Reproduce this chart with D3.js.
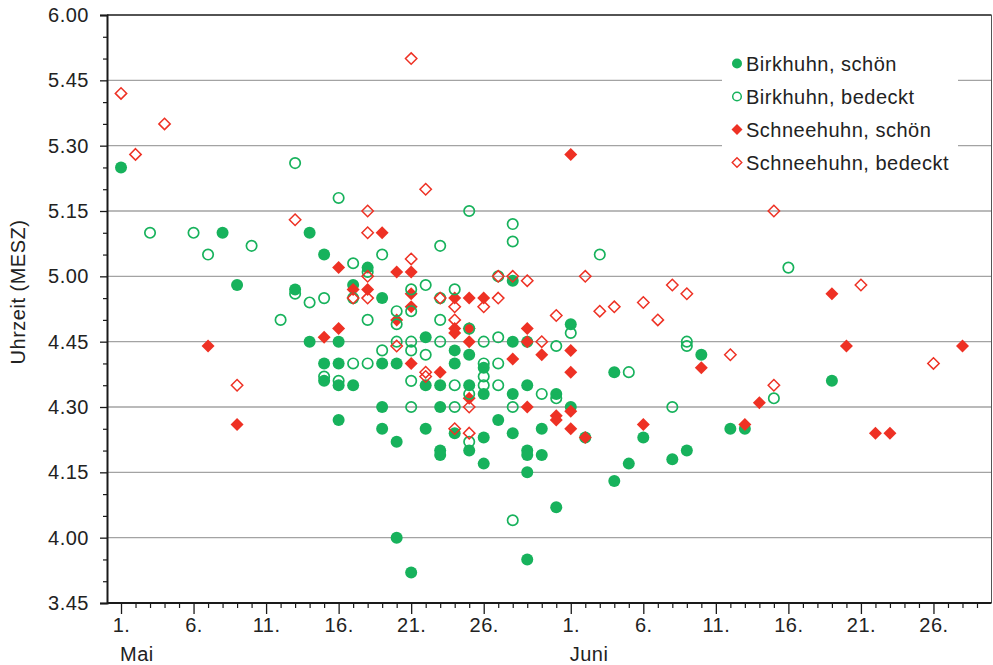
<!DOCTYPE html>
<html>
<head>
<meta charset="utf-8">
<script src="https://cdn.jsdelivr.net/npm/d3@7"></script>
<style>
  body { margin: 0; background: #fff; }
  svg { display: block; font-family: Arial, "Liberation Sans", sans-serif; }
  svg text { letter-spacing: 0.5px; }
</style>
</head>
<body>
<div id="chart"></div>
<script>
// day = day number counted from 1. Mai (1. Juni = 32), time = Uhrzeit as h.mm
const birkSchoenDays   = [1, 8, 9, 13, 14, 14, 15, 15, 15, 16, 16, 16, 16, 17, 17, 18, 19, 19, 19, 19, 20, 20, 20, 21, 22, 22, 22, 23, 23, 23, 23, 24, 24, 24, 25, 25, 25, 26, 26, 26, 26, 27, 28, 28, 28, 28, 29, 29, 29, 29, 29, 29, 30, 30, 31, 31, 32, 32, 33, 35, 35, 36, 37, 39, 40, 41, 43, 44, 50];
const birkSchoenTimes  = [5.25, 5.10, 4.58, 4.57, 5.10, 4.45, 5.05, 4.40, 4.36, 4.45, 4.40, 4.35, 4.27, 4.58, 4.35, 5.02, 4.55, 4.40, 4.30, 4.25, 4.40, 4.22, 4.00, 3.52, 4.46, 4.35, 4.25, 4.35, 4.30, 4.20, 4.19, 4.43, 4.40, 4.24, 4.42, 4.35, 4.20, 4.39, 4.33, 4.23, 4.17, 4.27, 4.59, 4.45, 4.33, 4.24, 4.45, 4.35, 4.20, 4.19, 4.15, 3.55, 4.25, 4.19, 4.33, 4.07, 4.49, 4.30, 4.23, 4.38, 4.13, 4.17, 4.23, 4.18, 4.20, 4.42, 4.25, 4.25, 4.36];

const birkBedecktDays  = [3, 6, 7, 10, 12, 13, 13, 14, 15, 15, 16, 16, 17, 17, 17, 18, 18, 18, 19, 19, 20, 20, 20, 21, 21, 21, 21, 21, 21, 22, 22, 23, 23, 23, 23, 24, 24, 24, 25, 25, 25, 25, 26, 26, 26, 26, 27, 27, 27, 27, 28, 28, 28, 28, 30, 31, 31, 32, 34, 36, 39, 40, 40, 46, 47];
const birkBedecktTimes = [5.10, 5.10, 5.05, 5.07, 4.50, 5.26, 4.56, 4.54, 4.55, 4.37, 5.18, 4.36, 5.03, 4.55, 4.40, 5.01, 4.50, 4.40, 5.05, 4.43, 4.52, 4.49, 4.45, 4.57, 4.52, 4.45, 4.43, 4.36, 4.30, 4.58, 4.42, 5.07, 4.55, 4.50, 4.45, 4.57, 4.35, 4.30, 5.15, 4.48, 4.33, 4.22, 4.45, 4.40, 4.37, 4.35, 5.00, 4.46, 4.40, 4.35, 5.12, 5.08, 4.30, 4.04, 4.33, 4.44, 4.32, 4.47, 5.05, 4.38, 4.30, 4.45, 4.44, 4.32, 5.02];

const schneeSchoenDays   = [7, 9, 15, 16, 16, 17, 18, 19, 20, 20, 21, 21, 21, 21, 23, 24, 24, 24, 25, 25, 25, 25, 26, 28, 29, 29, 29, 30, 31, 31, 32, 32, 32, 32, 32, 33, 37, 41, 44, 45, 50, 51, 53, 54, 59];
const schneeSchoenTimes  = [4.44, 4.26, 4.46, 5.02, 4.48, 4.57, 4.57, 5.10, 5.01, 4.50, 5.01, 4.56, 4.53, 4.40, 4.38, 4.55, 4.48, 4.47, 4.55, 4.48, 4.45, 4.32, 4.55, 4.41, 4.48, 4.45, 4.30, 4.42, 4.28, 4.27, 5.28, 4.43, 4.38, 4.29, 4.25, 4.23, 4.26, 4.39, 4.26, 4.31, 4.56, 4.44, 4.24, 4.24, 4.44];

const schneeBedecktDays  = [1, 2, 4, 9, 13, 17, 18, 18, 18, 18, 20, 21, 21, 22, 22, 22, 23, 24, 24, 24, 25, 25, 26, 27, 27, 28, 29, 30, 31, 33, 34, 35, 37, 38, 39, 40, 43, 46, 46, 52, 57];
const schneeBedecktTimes = [5.42, 5.28, 5.35, 4.35, 5.13, 4.55, 5.15, 5.10, 5.00, 4.55, 4.44, 5.50, 5.04, 5.20, 4.38, 4.37, 4.55, 4.53, 4.50, 4.25, 4.30, 4.24, 4.53, 5.00, 4.55, 5.00, 4.59, 4.45, 4.51, 5.00, 4.52, 4.53, 4.54, 4.50, 4.58, 4.56, 4.42, 5.15, 4.35, 4.58, 4.40];

const yTickLabels  = ['3.45', '4.00', '4.15', '4.30', '4.45', '5.00', '5.15', '5.30', '5.45', '6.00'];
const xTickDays    = [1, 6, 11, 16, 21, 26, 32, 37, 42, 47, 52, 57];
const xTickLabels  = ['1.', '6.', '11.', '16.', '21.', '26.', '1.', '6.', '11.', '16.', '21.', '26.'];
const monthDays    = [1, 32];
const monthLabels  = ['Mai', 'Juni'];
const seriesNames  = ['Birkhuhn, schön', 'Birkhuhn, bedeckt', 'Schneehuhn, schön', 'Schneehuhn, bedeckt'];

const GREEN = '#17b25c';
const RED   = '#ee3124';

// "4.35" -> minutes since midnight
const toMin = v => Math.floor(v + 1e-6) * 60 + Math.round((v - Math.floor(v + 1e-6)) * 100);

const W = 993, H = 665;
const plot = { left: 107, right: 991.5, top: 15, bottom: 603 };

const x = d3.scaleLinear().domain([0, 61]).range([plot.left - 0.5, plot.right]);
const y = d3.scaleLinear().domain([toMin(3.45), toMin(6.00)]).range([plot.bottom, plot.top]);

const svg = d3.select('#chart').append('svg')
  .attr('width', W).attr('height', H);

// ── Grid ─────────────────────────────────────────────────────────────────
const yTickMins = yTickLabels.map(s => toMin(+s));
svg.append('g')
  .selectAll('line')
  .data(yTickMins.slice(1, -1))
  .join('line')
  .attr('x1', plot.left).attr('x2', plot.right)
  .attr('y1', d => y(d)).attr('y2', d => y(d))
  .attr('stroke', '#a3a3a3').attr('stroke-width', 1.3);

// frame: top + right
svg.append('line')
  .attr('x1', plot.left).attr('x2', plot.right)
  .attr('y1', y(toMin(6.00))).attr('y2', y(toMin(6.00)))
  .attr('stroke', '#1a1a1a').attr('stroke-width', 1.5);
svg.append('line')
  .attr('x1', plot.right).attr('x2', plot.right)
  .attr('y1', plot.top).attr('y2', plot.bottom)
  .attr('stroke', '#555').attr('stroke-width', 1);

// ── Axes ─────────────────────────────────────────────────────────────────
const minorY = d3.range(toMin(3.45), toMin(6.00) + 1, 5).filter(m => m % 15 !== 0);
svg.append('g')
  .attr('transform', `translate(${plot.left},0)`)
  .call(d3.axisLeft(y).tickValues(minorY).tickSize(4).tickFormat(''))
  .call(g => g.select('.domain').remove())
  .call(g => g.selectAll('line').attr('stroke', '#1a1a1a').attr('stroke-width', 1.2));

svg.append('g')
  .attr('transform', `translate(${plot.left},0)`)
  .call(d3.axisLeft(y).tickValues(yTickMins).tickSize(7).tickPadding(11)
    .tickFormat((d, i) => yTickLabels[i]))
  .call(g => g.select('.domain').attr('stroke', '#1a1a1a').attr('stroke-width', 2))
  .call(g => g.selectAll('line').attr('stroke', '#1a1a1a').attr('stroke-width', 1.3))
  .call(g => g.selectAll('text').attr('font-size', 20).attr('fill', '#222')
    .attr('font-family', 'Arial, "Liberation Sans", sans-serif'));

const minorX = d3.range(1, 61).filter(d => !xTickDays.includes(d));
svg.append('g')
  .attr('transform', `translate(0,${plot.bottom})`)
  .call(d3.axisBottom(x).tickValues(minorX).tickSize(5).tickFormat(''))
  .call(g => g.select('.domain').remove())
  .call(g => g.selectAll('line').attr('stroke', '#1a1a1a').attr('stroke-width', 1.2));

svg.append('g')
  .attr('transform', `translate(0,${plot.bottom})`)
  .call(d3.axisBottom(x).tickValues(xTickDays).tickSize(11).tickPadding(4)
    .tickFormat((d, i) => xTickLabels[i]))
  .call(g => g.select('.domain').attr('d', `M${plot.left},0H${plot.right}`)
    .attr('stroke', '#1a1a1a').attr('stroke-width', 2))
  .call(g => g.selectAll('line').attr('stroke', '#1a1a1a').attr('stroke-width', 1.3))
  .call(g => g.selectAll('text').attr('font-size', 20).attr('fill', '#222')
    .attr('font-family', 'Arial, "Liberation Sans", sans-serif'));

svg.append('g')
  .selectAll('text')
  .data(monthDays)
  .join('text')
  .attr('x', d => x(d) - 1)
  .attr('y', 661)
  .attr('font-size', 20).attr('fill', '#222')
  .text((d, i) => monthLabels[i]);

svg.append('text')
  .attr('transform', `translate(25,${(plot.top + plot.bottom) / 2 - 17}) rotate(-90)`)
  .attr('text-anchor', 'middle')
  .attr('font-size', 20).attr('fill', '#222')
  .text('Uhrzeit (MESZ)');

// ── Markers ──────────────────────────────────────────────────────────────
const diamond = r => `M0,${-r}L${r},0L0,${r}L${-r},0Z`;

function drawSeries(days, times, shape, filled, color, r) {
  const g = svg.append('g');
  const pts = days.map((d, i) => ({ day: d, min: toMin(times[i]) }));
  if (shape === 'circle') {
    g.selectAll('circle').data(pts).join('circle')
      .attr('cx', d => x(d.day)).attr('cy', d => y(d.min))
      .attr('r', filled ? r : r - 0.8)
      .attr('fill', filled ? color : 'none')
      .attr('stroke', filled ? 'none' : color)
      .attr('stroke-width', filled ? 0 : 1.7);
  } else {
    g.selectAll('path').data(pts).join('path')
      .attr('transform', d => `translate(${x(d.day)},${y(d.min)})`)
      .attr('d', diamond(filled ? r : r - 0.8))
      .attr('fill', filled ? color : 'none')
      .attr('stroke', filled ? 'none' : color)
      .attr('stroke-width', filled ? 0 : 1.5);
  }
}

drawSeries(birkSchoenDays, birkSchoenTimes, 'circle', true, GREEN, 6);
drawSeries(schneeSchoenDays, schneeSchoenTimes, 'diamond', true, RED, 6.5);
drawSeries(birkBedecktDays, birkBedecktTimes, 'circle', false, GREEN, 6);
drawSeries(schneeBedecktDays, schneeBedecktTimes, 'diamond', false, RED, 6.5);

// ── Legend ───────────────────────────────────────────────────────────────
const legend = svg.append('g');
legend.append('rect')
  .attr('x', 722).attr('y', 42).attr('width', 236).attr('height', 140)
  .attr('fill', '#fff');

const legendY = d3.scalePoint().domain(seriesNames).range([63.5, 162.5]);
seriesNames.forEach((name, i) => {
  const cy = legendY(name);
  const filled = i % 2 === 0;
  const color = i < 2 ? GREEN : RED;
  if (i < 2) {
    legend.append('circle')
      .attr('cx', 737).attr('cy', cy).attr('r', filled ? 5 : 4.3)
      .attr('fill', filled ? color : 'none')
      .attr('stroke', filled ? 'none' : color).attr('stroke-width', 1.5);
  } else {
    legend.append('path')
      .attr('transform', `translate(737,${cy})`)
      .attr('d', diamond(filled ? 5.5 : 4.8))
      .attr('fill', filled ? color : 'none')
      .attr('stroke', filled ? 'none' : color).attr('stroke-width', 1.4);
  }
  legend.append('text')
    .attr('x', 746).attr('y', cy).attr('dy', '0.35em')
    .attr('font-size', 20).attr('fill', '#222')
    .text(name);
});
</script>
</body>
</html>
